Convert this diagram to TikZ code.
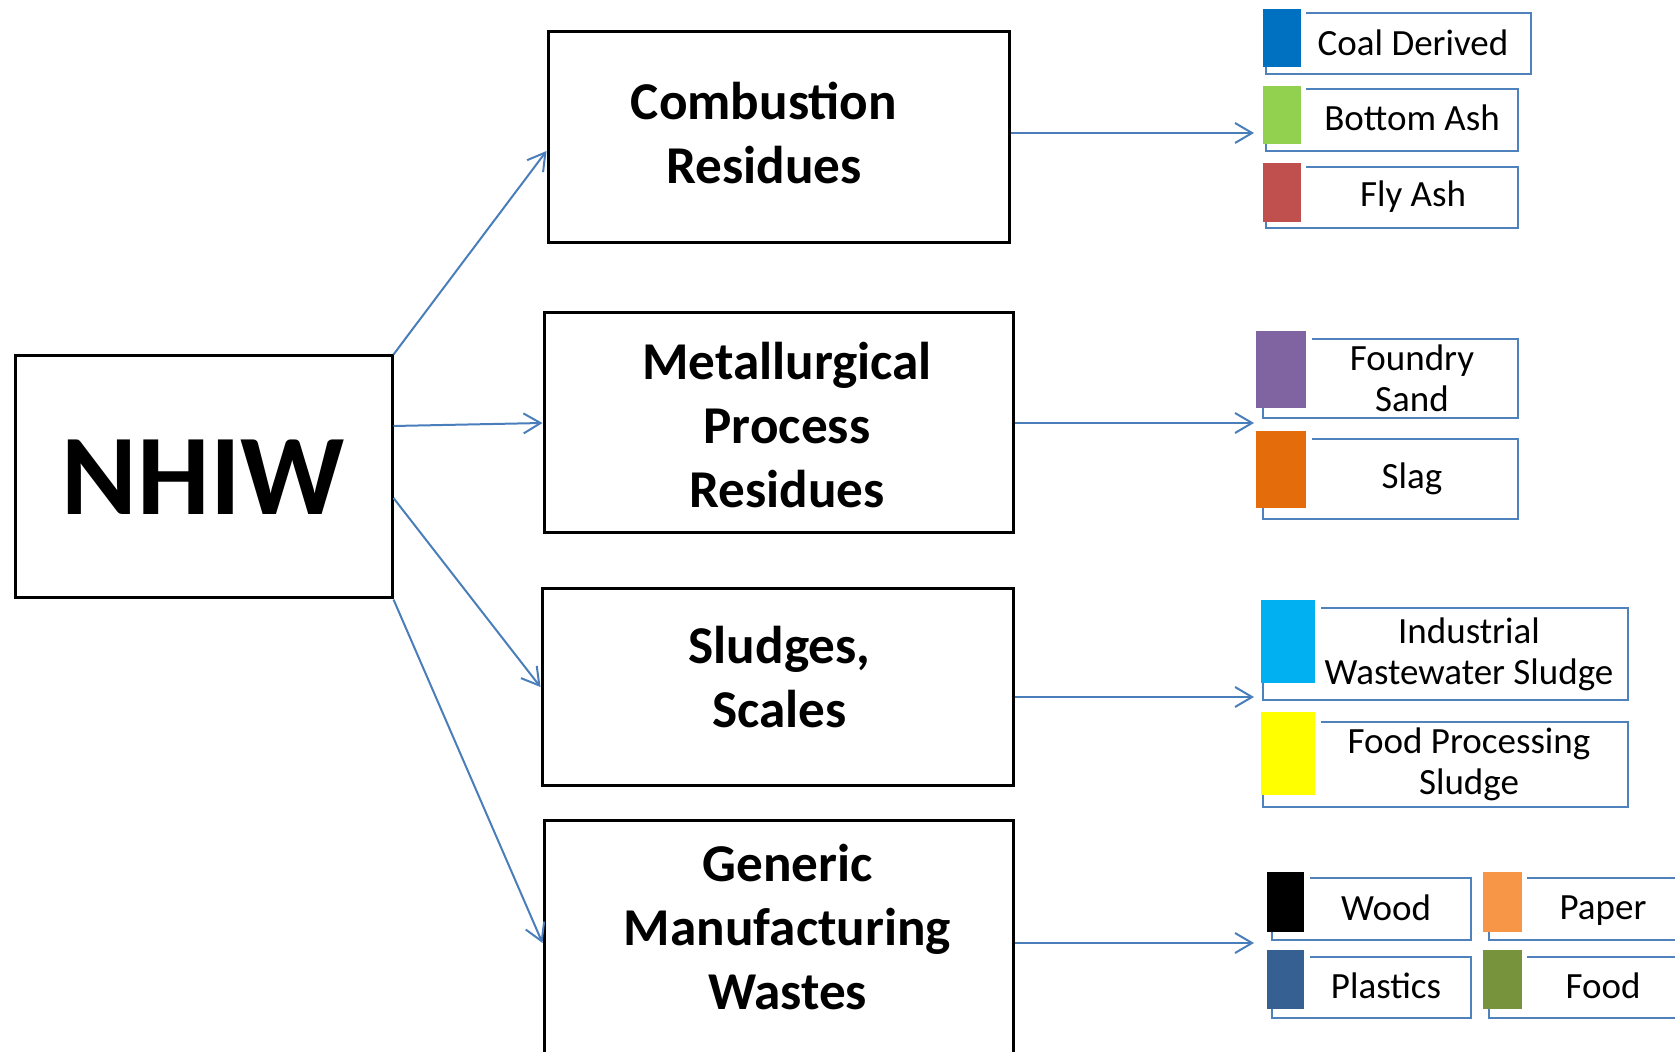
\documentclass[tikz,border=0pt]{standalone}
\usepackage{fontspec}
\setmainfont{Carlito}
\usetikzlibrary{arrows.meta}
\definecolor{flowblue}{HTML}{4A7EBB}
\definecolor{itemblue}{HTML}{4F81BD}
\definecolor{coalcol}{HTML}{0070C0}
\definecolor{bashcol}{HTML}{92D050}
\definecolor{fashcol}{HTML}{C0504D}
\definecolor{fsandcol}{HTML}{8064A2}
\definecolor{slagcol}{HTML}{E46C0A}
\definecolor{iwscol}{HTML}{00B0F0}
\definecolor{fpscol}{HTML}{FFFF00}
\definecolor{papercol}{HTML}{F79646}
\definecolor{plascol}{HTML}{376092}
\definecolor{foodcol}{HTML}{77933C}
\begin{document}
\begin{tikzpicture}[x=0.5pt,y=-0.5pt,
  mainbox/.style={draw,line width=1.5pt,inner sep=0pt},
  boxtext/.style={align=center,inner sep=0pt,font=\fontsize{26.6}{32}\selectfont\bfseries},
  flow/.style={flowblue,line width=1pt,-{Straight Barb[length=8.5pt,width=10pt]}},
  itemline/.style={draw=itemblue,line width=1pt},
  itemtext/.style={align=center,inner sep=0pt,font=\fontsize{18.5}{20.5}\selectfont}]
\useasboundingbox (0,0) rectangle (1675,1052);
\clip (0,0) rectangle (1675,1052);
\node[mainbox,minimum width=188.5pt,minimum height=121pt,font=\fontsize{57.5}{69}\selectfont\bfseries] (nhiw) at (203.5,477) {NHIW};
\node[mainbox,minimum width=230.5pt,minimum height=105.5pt] (comb) at (778.5,137.5) {};
\node[boxtext] (combtext) at (764,133) {Combustion\\Residues};
\node[mainbox,minimum width=234.5pt,minimum height=110pt] (metal) at (778.5,423) {};
\node[boxtext] (metaltext) at (787,425) {Metallurgical\\Process\\Residues};
\node[mainbox,minimum width=235.5pt,minimum height=98pt] (sludge) at (777.5,687) {};
\node[boxtext] (sludgetext) at (779.5,677) {Sludges,\\Scales};
\node[mainbox,minimum width=234.5pt,minimum height=123pt] (generic) at (778.5,943) {};
\node[boxtext] (generictext) at (787.5,927) {Generic\\Manufacturing\\Wastes};
\draw[flow] (nhiw.north east) -- ([yshift=-6.75pt]comb.west);
\draw[flow] ([yshift=25.5pt]nhiw.east) -- (metal.west);
\draw[flow] ([yshift=-10.5pt]nhiw.east) -- (sludge.west);
\draw[flow] (nhiw.south east) -- (generic.west);
\coordinate (combin) at (1254,133);
\coordinate (metalin) at (1254,423);
\coordinate (sludgein) at (1254,697);
\coordinate (genericin) at (1254,943);
\draw[flow] (comb.east |- combin) -- (combin);
\draw[flow] (metal.east |- metalin) -- (metalin);
\draw[flow] (sludge.east |- sludgein) -- (sludgein);
\draw[flow] (generic.east |- genericin) -- (genericin);
\fill[coalcol] (1263,9) rectangle (1301,67);
\draw[itemline] (1306,13) -- (1531,13) -- (1531,74) -- (1266,74) -- (1266,67);
\node[itemtext] (coal) at (1413,43) {Coal Derived};
\fill[bashcol] (1263,86) rectangle (1301,144);
\draw[itemline] (1306,89) -- (1518,89) -- (1518,151) -- (1266,151) -- (1266,144);
\node[itemtext] (bash) at (1412,118) {Bottom Ash};
\fill[fashcol] (1263,163) rectangle (1301,222);
\draw[itemline] (1306,167) -- (1518,167) -- (1518,228) -- (1266,228) -- (1266,222);
\node[itemtext] (fash) at (1413,197) {Fly Ash};
\fill[fsandcol] (1256,331) rectangle (1306,408);
\draw[itemline] (1312,339) -- (1518,339) -- (1518,418) -- (1263,418) -- (1263,408);
\node[itemtext] (fsand) at (1412,378) {Foundry\\Sand};
\fill[slagcol] (1256,431) rectangle (1306,508);
\draw[itemline] (1312,439) -- (1518,439) -- (1518,519) -- (1263,519) -- (1263,508);
\node[itemtext] (slag) at (1412,479) {Slag};
\fill[iwscol] (1261,600) rectangle (1315,683);
\draw[itemline] (1321,608) -- (1628,608) -- (1628,700) -- (1263,700) -- (1263,683);
\node[itemtext] (iws) at (1469,654) {Industrial\\Wastewater Sludge};
\fill[fpscol] (1261,712) rectangle (1315,795);
\draw[itemline] (1321,722) -- (1628,722) -- (1628,807) -- (1263,807) -- (1263,795);
\node[itemtext] (fps) at (1469,764) {Food Processing\\Sludge};
\fill[black] (1267,872) rectangle (1304,932);
\draw[itemline] (1310,878) -- (1471,878) -- (1471,940) -- (1272,940) -- (1272,932);
\node[itemtext] (wood) at (1386,908) {Wood};
\fill[plascol] (1267,950) rectangle (1304,1009);
\draw[itemline] (1310,957) -- (1471,957) -- (1471,1018) -- (1272,1018) -- (1272,1009);
\node[itemtext] (plas) at (1386,986) {Plastics};
\fill[papercol] (1483,872) rectangle (1522,932);
\draw[itemline] (1527,878) -- (1680,878) -- (1680,940) -- (1489,940) -- (1489,932);
\node[itemtext] (paper) at (1603,911) {Paper};
\fill[foodcol] (1483,950) rectangle (1522,1009);
\draw[itemline] (1527,957) -- (1680,957) -- (1680,1018) -- (1489,1018) -- (1489,1009);
\node[itemtext] (food) at (1603,986) {Food};
\end{tikzpicture}
\end{document}
